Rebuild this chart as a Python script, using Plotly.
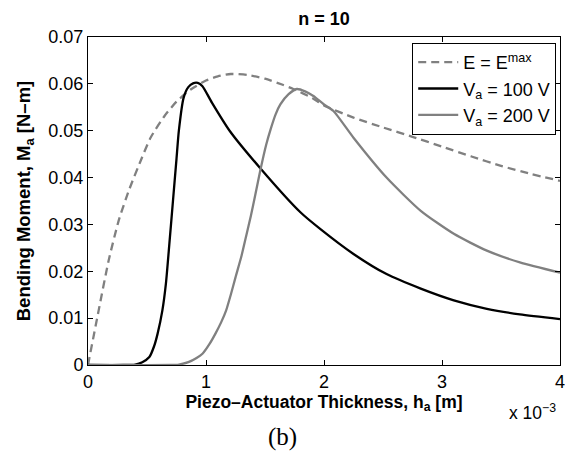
import plotly.graph_objects as go

# Thickness values in units of 1e-3 m
h_emax = [0, 0.09, 0.175, 0.26, 0.35, 0.45, 0.53, 0.65, 0.75, 0.87, 1.0, 1.1, 1.21,
          1.35, 1.5, 1.65, 1.74, 1.9, 2.0, 2.25, 2.5, 2.75, 3.0, 3.25, 3.5, 3.75, 4.0]
m_emax = [0, 0.0116, 0.0223, 0.0308, 0.0375, 0.0438, 0.0485, 0.0532, 0.0562, 0.0588,
          0.0607, 0.0616, 0.0621, 0.0619, 0.0611, 0.0598, 0.0589, 0.0570, 0.0554,
          0.0528, 0.0507, 0.0487, 0.0466, 0.0445, 0.0425, 0.0408, 0.0393]

h_100 = [0, 0.3, 0.4, 0.46, 0.52, 0.56, 0.59, 0.63, 0.66, 0.69, 0.72, 0.75, 0.77,
         0.81, 0.85, 0.89, 0.93, 0.97, 1.05, 1.2, 1.46, 1.8, 1.97, 2.25, 2.53, 2.82,
         3.1, 3.38, 3.66, 4.0]
m_100 = [0, 0, 0.0001, 0.0006, 0.0017, 0.004, 0.0067, 0.0116, 0.0173, 0.026, 0.035,
         0.044, 0.050, 0.057, 0.0593, 0.0601, 0.0602, 0.0595, 0.056, 0.050, 0.042,
         0.0326, 0.029, 0.0237, 0.0194, 0.0163, 0.0138, 0.0120, 0.0108, 0.0098]

h_200 = [0, 0.7, 0.77, 0.85, 0.92, 0.97, 1.03, 1.08, 1.13, 1.17, 1.21, 1.25, 1.30,
         1.34, 1.38, 1.42, 1.46, 1.51, 1.55, 1.59, 1.63, 1.70, 1.77, 1.84, 1.91, 2.0,
         2.08, 2.25, 2.53, 2.82, 3.1, 3.38, 3.66, 4.0]
m_200 = [0, 0, 0.0001, 0.0006, 0.0015, 0.0024, 0.0045, 0.0067, 0.0092, 0.0116, 0.0150,
         0.0187, 0.0232, 0.0275, 0.0318, 0.0366, 0.0415, 0.047, 0.0505, 0.0535, 0.0556,
         0.0578, 0.0589, 0.0584, 0.0574, 0.0556, 0.0542, 0.0485, 0.040, 0.0329, 0.0280,
         0.0244, 0.0219, 0.0197]

x_ticks = [0, 1, 2, 3, 4]
y_ticks = [0, 0.01, 0.02, 0.03, 0.04, 0.05, 0.06, 0.07]

GRAY = "rgb(128,128,128)"
FONT = "Liberation Sans, Arial, sans-serif"

fig = go.Figure()
fig.add_trace(go.Scatter(x=h_emax, y=m_emax, mode="lines", name="E = E<sup>max</sup>",
                         line=dict(color=GRAY, width=2.3, dash="8px,5px",
                                   shape="spline", smoothing=0.6)))
fig.add_trace(go.Scatter(x=h_100, y=m_100, mode="lines", name="V<sub>a</sub> = 100 V",
                         line=dict(color="black", width=2.3, shape="spline", smoothing=0.6)))
fig.add_trace(go.Scatter(x=h_200, y=m_200, mode="lines", name="V<sub>a</sub> = 200 V",
                         line=dict(color=GRAY, width=2.3, shape="spline", smoothing=0.6)))

axis_common = dict(showline=True, linecolor="black", linewidth=1, mirror="ticks",
                   ticks="inside", ticklen=5, tickcolor="black", showgrid=False,
                   zeroline=False, tickfont=dict(family=FONT, size=18, color="black"))

fig.update_xaxes(range=[0, 4], tickvals=x_ticks, ticktext=[str(v) for v in x_ticks],
                 title=dict(text="<b>Piezo\u2013Actuator Thickness, h<sub>a</sub> [m]</b>",
                            font=dict(family=FONT, size=17.5, color="black"), standoff=1),
                 **axis_common)
fig.update_yaxes(range=[0, 0.07], tickvals=y_ticks,
                 ticktext=["0"] + ["%.2f" % v for v in y_ticks[1:]],
                 title=dict(text="<b>Bending Moment, M<sub>a</sub> [N\u2013m]</b>",
                            font=dict(family=FONT, size=18.5, color="black"), standoff=12),
                 **axis_common)

# the page body adds an 8px margin, so the figure is 565x446
fig.update_layout(
    width=565, height=446,
    margin=dict(l=80, r=13, t=29, b=89, autoexpand=False),
    paper_bgcolor="white", plot_bgcolor="white",
    font=dict(family=FONT, size=17, color="black"),
    title=dict(text="<b>n = 10</b>", x=0.5, xref="paper", y=1.0, yref="container",
               xanchor="center", yanchor="top", pad=dict(t=4, b=0),
               font=dict(family=FONT, size=18, color="black")),
    legend=dict(x=0.992, y=0.982, xanchor="right", yanchor="top",
                bordercolor="black", borderwidth=1, bgcolor="white",
                font=dict(family=FONT, size=18, color="black"),
                itemwidth=40, tracegroupgap=0),
    showlegend=True,
)

fig.add_annotation(text="x 10<sup>\u22123</sup>", xref="paper", yref="paper",
                   x=0.996, y=-0.143, xanchor="right", yanchor="middle", showarrow=False,
                   font=dict(family=FONT, size=17.5, color="black"))
fig.add_annotation(text="(b)", xref="paper", yref="paper", x=0.412, y=-0.22,
                   xanchor="center", yanchor="middle", showarrow=False,
                   font=dict(family="Liberation Serif, DejaVu Serif, serif", size=25,
                             color="black"))

fig.write_html("out.html")
